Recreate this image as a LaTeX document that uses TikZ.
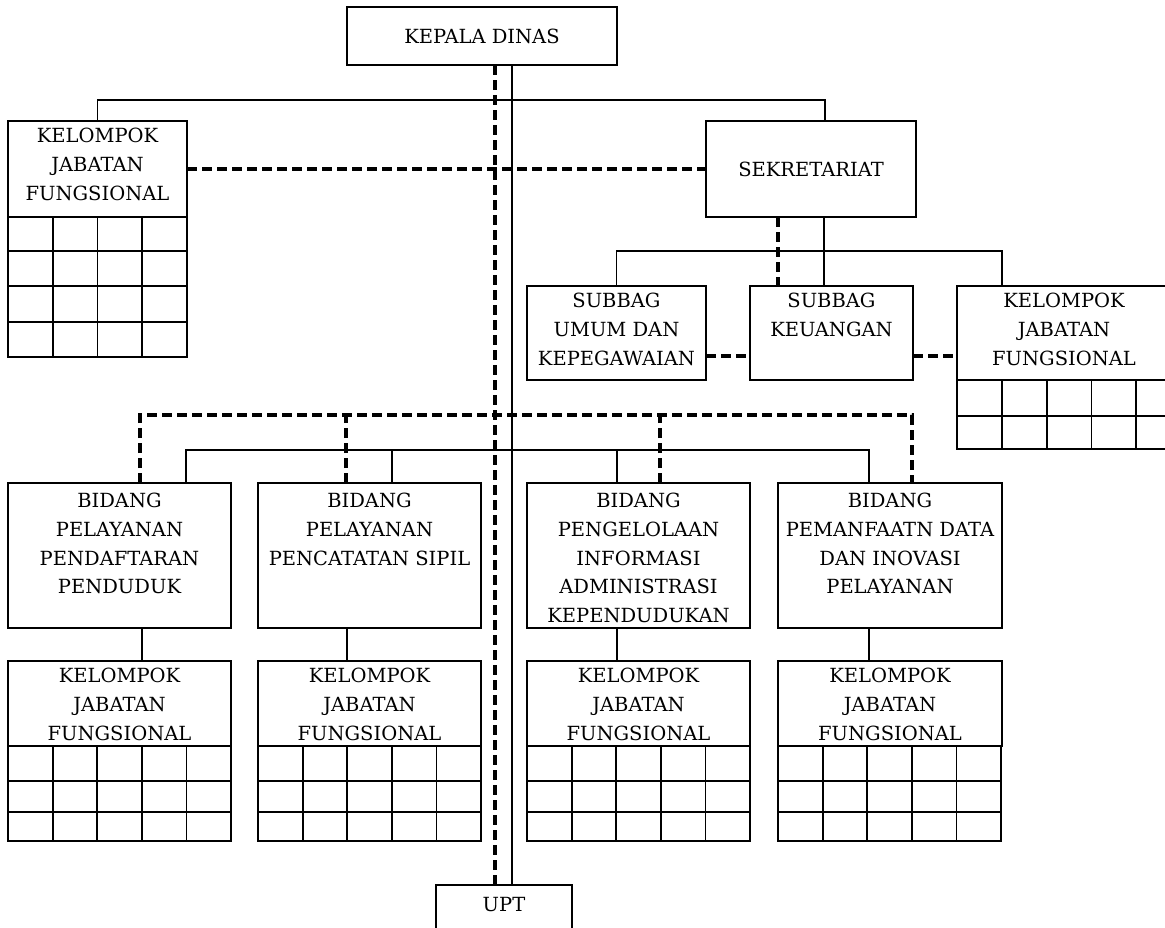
\documentclass[tikz,border=0pt]{standalone}
\usepackage{fontspec}
\setmainfont{DejaVu Serif}
\usetikzlibrary{fit}
\begin{document}
\begin{tikzpicture}[x=1pt,y=-1pt,
  box/.style={draw, line width=1.8pt, fill=white, inner sep=0pt, outer sep=0pt, rectangle},
  conn/.style={line width=1.5pt},
  dsh/.style={line width=3.3pt, dash pattern=on 10pt off 5pt},
  gl/.style={line width=1.8pt},
  lbl/.style={font=\fontsize{19.5}{28.7}\selectfont, align=center, inner sep=0pt}]
\useasboundingbox (0,0) rectangle (1165,927);
\clip (0,0) rectangle (1165,927);

% coordinates for connector positions
\coordinate (xs) at (512,0);
\coordinate (xd) at (495,0);
\coordinate (xsek) at (825,0);
\coordinate (xsd) at (778,0);
\coordinate (xss) at (824,0);
\coordinate (xkr) at (1002,0);
\coordinate (s1) at (186,0);
\coordinate (s2) at (392,0);
\coordinate (s3) at (617,0);
\coordinate (s4) at (869,0);
\coordinate (d1) at (140,0);
\coordinate (d2) at (346,0);
\coordinate (d3) at (660,0);
\coordinate (d4) at (912,0);
\coordinate (k1) at (142,0);
\coordinate (k2) at (347,0);
\coordinate (k3) at (617,0);
\coordinate (k4) at (869,0);
\coordinate (yb1) at (0,100);
\coordinate (ysub) at (0,251);
\coordinate (ydash) at (0,356);
\coordinate (ydb) at (0,415);
\coordinate (ysb) at (0,450);

% boxes
\node[box, fit={(347,7) (617,65)}] (kepala) {};
\node[box, fit={(8,121) (187,217)}] (kjfL) {};
\node[box, fit={(706,121) (916,217)}] (sek) {};
\node[box, fit={(527,286) (706,380)}] (umum) {};
\node[box, fit={(750,286) (913,380)}] (keu) {};
\node[box, fit={(957,286) (1181,380)}] (kjfR) {};
\node[box, fit={(8,483) (231,628)}] (b1) {};
\node[box, fit={(258,483) (481,628)}] (b2) {};
\node[box, fit={(527,483) (750,628)}] (b3) {};
\node[box, fit={(778,483) (1002,628)}] (b4) {};
\node[box, fit={(8,661) (231,746)}] (kjf1) {};
\node[box, fit={(258,661) (481,746)}] (kjf2) {};
\node[box, fit={(527,661) (750,746)}] (kjf3) {};
\node[box, fit={(778,661) (1002,746)}] (kjf4) {};
\node[box, fit={(436,885) (572,945)}] (upt) {};

% grids
\draw[gl] (8,217) rectangle (187,357);
\foreach \x in {52.75,97.5,142.25} \draw[gl] (\x,217) -- (\x,357);
\foreach \y in {251,286,322} \draw[gl] (8,\y) -- (187,\y);

\draw[gl] (957,380) rectangle (1181,449);
\foreach \x in {1001.8,1046.6,1091.4,1136.2} \draw[gl] (\x,380) -- (\x,449);
\draw[gl] (957,416) -- (1181,416);

\foreach \bx in {8,258,527,778}{
  \draw[gl] (\bx,746) rectangle ({\bx+223},841);
  \foreach \k in {1,2,3,4} \draw[gl] ({\bx+44.6*\k},746) -- ({\bx+44.6*\k},841);
  \foreach \y in {781,812} \draw[gl] (\bx,\y) -- ({\bx+223},\y);
}

% solid connectors
\draw[conn] (kepala.south -| xs) -- (upt.north -| xs);
\draw[conn] (kjfL.north) |- (yb1 -| xsek) -- (sek.north -| xsek);
\draw[conn] (sek.south -| xss) -- (keu.north -| xss);
\draw[conn] (umum.north) |- (ysub -| xkr) -- (kjfR.north -| xkr);
\draw[conn] (b1.north -| s1) |- (ysb -| s4) -- (b4.north -| s4);
\draw[conn] (b2.north -| s2) -- (ysb -| s2);
\draw[conn] (b3.north -| s3) -- (ysb -| s3);
\draw[conn] (b1.south -| k1) -- (kjf1.north -| k1);
\draw[conn] (b2.south -| k2) -- (kjf2.north -| k2);
\draw[conn] (b3.south -| k3) -- (kjf3.north -| k3);
\draw[conn] (b4.south -| k4) -- (kjf4.north -| k4);

% dashed connectors
\draw[dsh] (kepala.south -| xd) -- (upt.north -| xd);
\draw[dsh] (kjfL.east) -- (sek.west);
\draw[dsh] (sek.south -| xsd) -- (keu.north -| xsd);
\draw[dsh] (umum.east |- ydash) -- (keu.west |- ydash);
\draw[dsh] (keu.east |- ydash) -- (kjfR.west |- ydash);
\draw[dsh] (b1.north -| d1) |- (ydb -| d4) -- (b4.north -| d4);
\draw[dsh] (b2.north -| d2) -- (ydb -| d2);
\draw[dsh] (b3.north -| d3) -- (ydb -| d3);

% labels
\node[lbl] (tkepala) at (kepala.center) {KEPALA DINAS};
\node[lbl] (tsek) at (sek.center) {SEKRETARIAT};
\node[lbl, anchor=north] (tkjfL) at ([yshift=-7pt]kjfL.north) {KELOMPOK\\JABATAN\\FUNGSIONAL};
\node[lbl, anchor=north] (tumum) at ([yshift=-7pt]umum.north) {SUBBAG\\UMUM DAN\\KEPEGAWAIAN};
\node[lbl, anchor=north] (tkeu) at ([yshift=-7pt]keu.north) {SUBBAG\\KEUANGAN};
\node[lbl, anchor=north] (tkjfR) at ([yshift=-7pt,xshift=-5pt]kjfR.north) {KELOMPOK\\JABATAN\\FUNGSIONAL};
\node[lbl, anchor=north] (tb1) at ([yshift=-10pt]b1.north) {BIDANG\\PELAYANAN\\PENDAFTARAN\\PENDUDUK};
\node[lbl, anchor=north] (tb2) at ([yshift=-10pt]b2.north) {BIDANG\\PELAYANAN\\PENCATATAN SIPIL};
\node[lbl, anchor=north] (tb3) at ([yshift=-10pt]b3.north) {BIDANG\\PENGELOLAAN\\INFORMASI\\ADMINISTRASI\\KEPENDUDUKAN};
\node[lbl, anchor=north] (tb4) at ([yshift=-10pt]b4.north) {BIDANG\\PEMANFAATN DATA\\DAN INOVASI\\PELAYANAN};
\node[lbl, anchor=north] (tk1) at ([yshift=-7pt]kjf1.north) {KELOMPOK\\JABATAN\\FUNGSIONAL};
\node[lbl, anchor=north] (tk2) at ([yshift=-7pt]kjf2.north) {KELOMPOK\\JABATAN\\FUNGSIONAL};
\node[lbl, anchor=north] (tk3) at ([yshift=-7pt]kjf3.north) {KELOMPOK\\JABATAN\\FUNGSIONAL};
\node[lbl, anchor=north] (tk4) at ([yshift=-7pt]kjf4.north) {KELOMPOK\\JABATAN\\FUNGSIONAL};
\node[lbl] (tupt) at (504,905) {UPT};
\end{tikzpicture}
\end{document}
